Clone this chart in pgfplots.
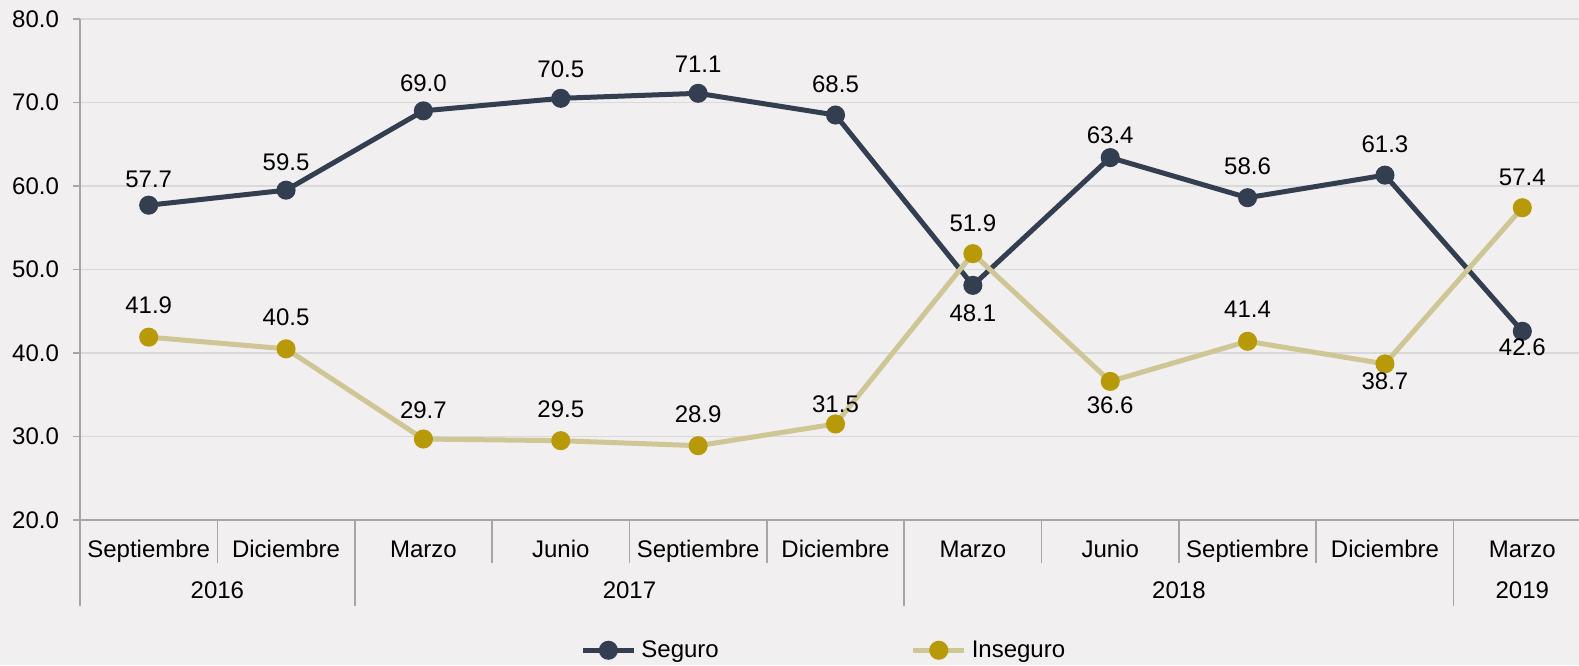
\documentclass[border=0pt]{standalone}
\usepackage{pgfplots}
\usepackage{pgfplotstable}
\pgfplotsset{compat=1.18}
\usepackage{fontspec}
\setmainfont{Liberation Sans}
\definecolor{bg}{RGB}{241,239,240}
\definecolor{seg}{RGB}{51,63,80}
\definecolor{insline}{RGB}{207,198,150}
\definecolor{insmark}{RGB}{184,154,8}
\definecolor{gridc}{RGB}{217,217,217}
\definecolor{axc}{RGB}{166,166,166}

\pgfplotstableread{
x y dy
0 57.7 13
1 59.5 14
2 69.0 14
3 70.5 14.5
4 71.1 14.5
5 68.5 15.5
6 48.1 -14
7 63.4 11
8 58.6 15.5
9 61.3 15.5
10 42.6 -8
}\seguro

\pgfplotstableread{
x y dy
0 41.9 16
1 40.5 16
2 29.7 14.5
3 29.5 15.5
4 28.9 15.5
5 31.5 10
6 51.9 15
7 36.6 -12
8 41.4 16
9 38.7 -8.5
10 57.4 15
}\inseguro

\begin{document}
\begin{tikzpicture}[font=\fontsize{12}{14}\selectfont]
\path[use as bounding box, fill=bg] (0,0) rectangle (789.5pt,332.5pt);
\begin{axis}[
  at={(40pt,72.5pt)}, anchor=south west,
  scale only axis, width=755.5pt, height=250.5pt,
  xmin=-0.5, xmax=10.5, ymin=20, ymax=80,
  clip=false,
  axis x line*=bottom, axis y line*=left,
  axis line style={axc, line width=0.8pt},
  ytick={20,30,40,50,60,70,80},
  ymajorgrids, grid style={gridc, line width=0.8pt},
  tick align=outside,
  major tick length=3.5pt,
  tick style={axc, line width=0.8pt},
  xtick={0,1,2,3,4,5,6,7,8,9,10},
  xticklabels={Septiembre,Diciembre,Marzo,Junio,Septiembre,Diciembre,Marzo,Junio,Septiembre,Diciembre,Marzo},
  x tick style={draw=none},
  xticklabel style={anchor=base, yshift=-15pt},
  yticklabel style={xshift=-3.5pt},
  /pgf/number format/fixed,
  /pgf/number format/fixed zerofill,
  /pgf/number format/precision=1,
  /pgf/number format/assume math mode=true,
  legend columns=2,
  legend style={draw=none, fill=none, inner sep=0pt, at={(0.3309,-0.26)}, anchor=west,
    nodes={inner sep=0pt, anchor=west},
    /tikz/every odd column/.append style={column sep=2.5pt},
    /tikz/every even column/.append style={column sep=96pt}},
  legend image code/.code={\draw[mark repeat=2,mark phase=2,#1] plot coordinates {(0pt,0pt) (12.75pt,0pt) (25.5pt,0pt)};},
  visualization depends on={\thisrow{dy} \as \dy},
  nodes near coords,
  every node near coord/.append style={text=black, anchor=center, yshift=\dy*1pt},
]
\addplot[seg, line width=2.5pt, mark=*, mark size=3.5pt, mark options={fill=seg, draw=seg}] table[x=x, y=y] {\seguro};
\addlegendentry{Seguro}
\addplot[insline, line width=2.5pt, mark=*, mark size=3.5pt, mark options={fill=insmark, draw=insmark}] table[x=x, y=y] {\inseguro};
\addlegendentry{Inseguro}
\pgfplotsinvokeforeach{0.5,2.5,3.5,4.5,6.5,7.5,8.5}{
  \draw[axc, line width=0.8pt] (axis cs:#1,20) -- ([yshift=-21.5pt]axis cs:#1,20);
}
\pgfplotsinvokeforeach{-0.5,1.5,5.5,9.5}{
  \draw[axc, line width=0.8pt] (axis cs:#1,20) -- ([yshift=-43pt]axis cs:#1,20);
}
\node[anchor=base] at ([yshift=-39pt]axis cs:0.5,20) {2016};
\node[anchor=base] at ([yshift=-39pt]axis cs:3.5,20) {2017};
\node[anchor=base] at ([yshift=-39pt]axis cs:7.5,20) {2018};
\node[anchor=base] at ([yshift=-39pt]axis cs:10,20) {2019};
\end{axis}
\end{tikzpicture}
\end{document}
